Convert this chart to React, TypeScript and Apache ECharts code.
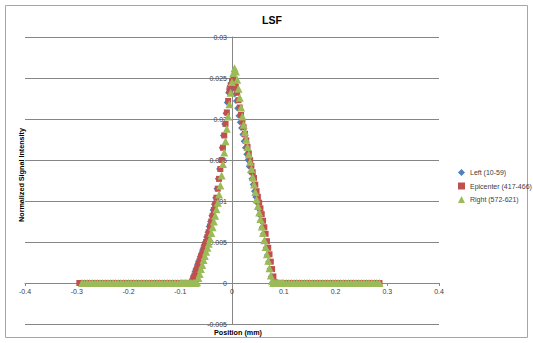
import React, { useEffect, useRef } from "react";
import * as echarts from "echarts";

const TITLE = "LSF";
const X_NAME = "Position (mm)";
const Y_NAME = "Normalized Signal Intensity";
const SERIES_NAMES = ["Left (10-59)", "Epicenter (417-466)", "Right (572-621)"];
const COLORS = ["#4F81BD", "#C0504D", "#9BBB59"];

const FLAT_LEFT_X = [
  -0.295, -0.29, -0.285, -0.28, -0.275, -0.27, -0.265, -0.26, -0.255, -0.25,
  -0.245, -0.24, -0.235, -0.23, -0.225, -0.22, -0.215, -0.21, -0.205, -0.2,
  -0.195, -0.19, -0.185, -0.18, -0.175, -0.17, -0.165, -0.16, -0.155, -0.15,
  -0.145, -0.14, -0.135, -0.13, -0.125, -0.12, -0.115, -0.11, -0.105,
];
const FLAT_LEFT_Y = [
  0, 0, 0, 0, 0, 0, 0, 0, 0, 0,
  0, 0, 0, 0, 0, 0, 0, 0, 0, 0,
  0, 0, 0, 0, 0, 0, 0, 0, 0, 0,
  0, 0, 0, 0, 0, 0, 0, 0, 0,
];
const FLAT_RIGHT_X = [
  0.105, 0.11, 0.115, 0.12, 0.125, 0.13, 0.135, 0.14, 0.145, 0.15,
  0.155, 0.16, 0.165, 0.17, 0.175, 0.18, 0.185, 0.19, 0.195, 0.2,
  0.205, 0.21, 0.215, 0.22, 0.225, 0.23, 0.235, 0.24, 0.245, 0.25,
  0.255, 0.26, 0.265, 0.27, 0.275, 0.28, 0.285,
];
const FLAT_RIGHT_Y = [
  0, 0, 0, 0, 0, 0, 0, 0, 0, 0,
  0, 0, 0, 0, 0, 0, 0, 0, 0, 0,
  0, 0, 0, 0, 0, 0, 0, 0, 0, 0,
  0, 0, 0, 0, 0, 0, 0,
];

const CORE_X = [
  -0.1, -0.0975, -0.095, -0.0925, -0.09, -0.0875, -0.085, -0.0825,
  -0.08, -0.0775, -0.075, -0.0725, -0.07, -0.0675, -0.065, -0.0625,
  -0.06, -0.0575, -0.055, -0.0525, -0.05, -0.0475, -0.045, -0.0425,
  -0.04, -0.0375, -0.035, -0.0325, -0.03, -0.0275, -0.025, -0.0225,
  -0.02, -0.0175, -0.015, -0.0125, -0.01, -0.0075, -0.005, -0.0025,
  0,
  0.0025, 0.005, 0.0075, 0.01, 0.0125, 0.015, 0.0175, 0.02,
  0.0225, 0.025, 0.0275, 0.03, 0.0325, 0.035, 0.0375, 0.04,
  0.0425, 0.045, 0.0475, 0.05, 0.0525, 0.055, 0.0575, 0.06,
  0.0625, 0.065, 0.0675, 0.07, 0.0725, 0.075, 0.0775, 0.08,
  0.0825, 0.085, 0.0875, 0.09, 0.0925, 0.095, 0.0975, 0.1,
];

const LEFT_CORE = [
  0, 0, 0, 0, 0, 0, 0, 0,
  0.0001, 0.0005, 0.0009, 0.0014, 0.0018, 0.0023, 0.0027, 0.0032,
  0.0036, 0.0041, 0.0046, 0.005, 0.0056, 0.0062, 0.0069, 0.0075,
  0.0082, 0.0089, 0.0096, 0.0104, 0.0115, 0.0127, 0.0139, 0.015,
  0.0165, 0.018, 0.0194, 0.0207, 0.022, 0.0232, 0.024, 0.0244,
  0.0242,
  0.0237, 0.023, 0.0222, 0.0213, 0.0204, 0.0196, 0.0189, 0.0181,
  0.0173, 0.0165, 0.0157, 0.015, 0.0142, 0.0135, 0.0127, 0.012,
  0.0112, 0.0105, 0.0098, 0.0091, 0.0083, 0.0076, 0.0068, 0.006,
  0.0051, 0.0043, 0.0034, 0.0026, 0.0017, 0.0008, 0.0001, 0,
  0, 0, 0, 0, 0, 0, 0, 0,
];

const EPI_CORE = [
  0, 0, 0, 0, 0, 0, 0, 0,
  0, 0.0001, 0.0005, 0.0009, 0.0014, 0.0018, 0.0023, 0.0027,
  0.0032, 0.0036, 0.0041, 0.0046, 0.005, 0.0056, 0.0062, 0.0069,
  0.0075, 0.0082, 0.0089, 0.0096, 0.0104, 0.0115, 0.0127, 0.0139,
  0.015, 0.0165, 0.018, 0.0194, 0.0208, 0.0222, 0.0235, 0.0241,
  0.0246,
  0.0248, 0.0245, 0.0239, 0.0232, 0.0223, 0.0214, 0.0205, 0.0197,
  0.019, 0.0182, 0.0174, 0.0166, 0.0158, 0.015, 0.0143, 0.0135,
  0.0128, 0.012, 0.0112, 0.0105, 0.0098, 0.0091, 0.0084, 0.0076,
  0.0068, 0.006, 0.0051, 0.0043, 0.0035, 0.0026, 0.0017, 0.0008,
  0.0001, 0, 0, 0, 0, 0, 0, 0,
];

const RIGHT_CORE = [
  0, 0, 0, 0, 0, 0, 0, 0,
  0, 0, 0, 0, 0, 0.0001, 0.0006, 0.0011,
  0.0017, 0.0022, 0.0028, 0.0033, 0.0038, 0.0043, 0.0048, 0.0054,
  0.0061, 0.0068, 0.0075, 0.0082, 0.009, 0.0098, 0.0108, 0.0119,
  0.0131, 0.0145, 0.0159, 0.0173, 0.0188, 0.0203, 0.0218, 0.0232,
  0.0245,
  0.0256, 0.0262, 0.0258, 0.0248, 0.0237, 0.0226, 0.0214, 0.0203,
  0.0193, 0.0184, 0.0175, 0.0166, 0.0157, 0.0148, 0.0139, 0.0129,
  0.012, 0.0111, 0.0102, 0.0094, 0.0086, 0.0078, 0.0069, 0.0061,
  0.0052, 0.0044, 0.0035, 0.0027, 0.0018, 0.0009, 0.0002, 0,
  0, 0, 0, 0, 0, 0, 0, 0,
];

const SYMBOLS = ["diamond", "rect", "triangle"];
const SYMBOL_SIZES = [6, 6, 8];
const FONT = "'Liberation Sans', Arial, sans-serif";

// plot area geometry (pixels)
const GRID_LEFT = 25;
const GRID_RIGHT = 94;
const GRID_TOP = 37;
const GRID_BOTTOM = 19;
const CHART_W = 533;
const CHART_H = 343;
const X_MIN = -0.4;
const X_MAX = 0.4;
const Y_MIN = -0.005;
const Y_MAX = 0.03;

function buildPoints(core: number[], skipFirstFlat: boolean): number[][] {
  const xs = [...FLAT_LEFT_X, ...CORE_X, ...FLAT_RIGHT_X];
  const ys = [...FLAT_LEFT_Y, ...core, ...FLAT_RIGHT_Y];
  const pts = xs.map((x, i) => [x, ys[i]]);
  return skipFirstFlat ? pts.slice(1) : pts;
}

export default function App() {
  const ref = useRef<HTMLDivElement>(null);
  useEffect(() => {
    if (!ref.current) return;
    const chart = echarts.init(ref.current, null, { renderer: "svg" });
    const cores = [LEFT_CORE, EPI_CORE, RIGHT_CORE];
    const plotW = CHART_W - GRID_LEFT - GRID_RIGHT;
    const plotH = CHART_H - GRID_TOP - GRID_BOTTOM;
    // shift the axes so that they cross at the origin, as in the reference
    const yAxisOffset = -((0 - X_MIN) / (X_MAX - X_MIN)) * plotW;
    const xAxisOffset = -((0 - Y_MIN) / (Y_MAX - Y_MIN)) * plotH;
    const option: any = {
      animation: false,
      backgroundColor: "#ffffff",
      textStyle: { fontFamily: FONT },
      grid: {
        left: GRID_LEFT,
        right: GRID_RIGHT,
        top: GRID_TOP,
        bottom: GRID_BOTTOM,
        containLabel: false,
      },
      legend: {
        orient: "vertical",
        left: 458,
        top: 169,
        padding: 0,
        itemWidth: 7,
        itemHeight: 7,
        itemGap: 6.5,
        textStyle: { fontSize: 7, color: "#404040", fontFamily: FONT },
        data: SERIES_NAMES,
      },
      xAxis: {
        type: "value",
        min: X_MIN,
        max: X_MAX,
        interval: 0.1,
        position: "bottom",
        offset: xAxisOffset,
        axisLine: { onZero: false, lineStyle: { color: "#868686", width: 1 } },
        axisTick: { show: true, length: 3, lineStyle: { color: "#868686" } },
        splitLine: { show: false },
        axisLabel: {
          fontSize: 7,
          color: "#404040",
          margin: 5,
          formatter: (v: number) => String(Math.round(v * 10) / 10),
        },
      },
      yAxis: {
        type: "value",
        min: Y_MIN,
        max: Y_MAX,
        interval: 0.005,
        position: "left",
        offset: yAxisOffset,
        axisLine: { onZero: false, lineStyle: { color: "#868686", width: 1 } },
        axisTick: { show: true, length: 3, lineStyle: { color: "#868686" } },
        splitLine: { show: true, lineStyle: { color: "#868686", width: 1 } },
        axisLabel: {
          fontSize: 7,
          color: "#404040",
          margin: 5,
          formatter: (v: number) => String(Math.round(v * 1000) / 1000),
        },
      },
      graphic: [
        {
          type: "rect",
          shape: { x: 5.5, y: 5.5, width: 522, height: 332 },
          style: { fill: "none", stroke: "#a6a6a6", lineWidth: 1 },
          silent: true,
          z: -10,
        },
        {
          type: "text",
          x: 272,
          y: 20,
          style: {
            text: TITLE,
            font: `bold 10.5px ${FONT}`,
            fill: "#000000",
            textAlign: "center",
            textVerticalAlign: "middle",
          },
        },
        {
          type: "text",
          x: 21,
          y: 175,
          rotation: Math.PI / 2,
          style: {
            text: Y_NAME,
            font: `bold 7.2px ${FONT}`,
            fill: "#000000",
            textAlign: "center",
            textVerticalAlign: "middle",
          },
        },
        {
          type: "text",
          x: 238,
          y: 332,
          style: {
            text: X_NAME,
            font: `bold 7.2px ${FONT}`,
            fill: "#000000",
            textAlign: "center",
            textVerticalAlign: "middle",
          },
        },
      ],
      series: SERIES_NAMES.map((name, i) => ({
        name,
        type: "scatter",
        symbol: SYMBOLS[i],
        symbolSize: SYMBOL_SIZES[i],
        itemStyle: { color: COLORS[i], opacity: 1 },
        data: buildPoints(cores[i], i !== 1),
      })),
    };
    chart.setOption(option);
    return () => chart.dispose();
  }, []);
  return (
    <div
      ref={ref}
      style={{ position: "fixed", left: 0, top: 0, width: CHART_W, height: CHART_H }}
    />
  );
}
